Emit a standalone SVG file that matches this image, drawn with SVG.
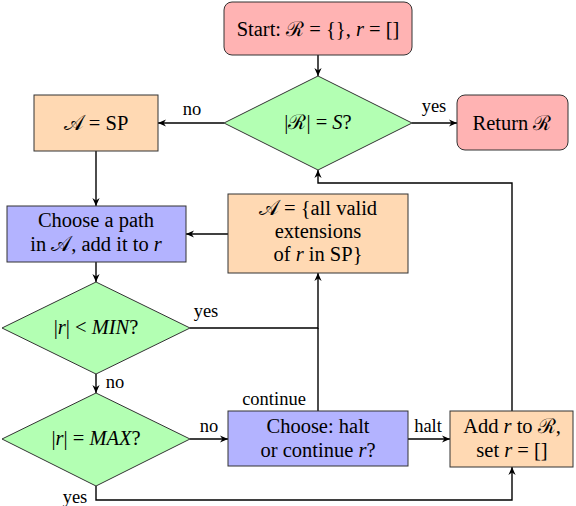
<svg xmlns="http://www.w3.org/2000/svg" width="576" height="506" viewBox="0 0 576 506">
<defs>
<marker id="arr" markerUnits="userSpaceOnUse" viewBox="0 0 10 10" refX="10" refY="5" markerWidth="8" markerHeight="8" orient="auto">
<path d="M0,0.5 L10,5 L0,9.5 L3,5 z" fill="#000"/>
</marker>
</defs>
<style>
.t{font-size:20.5px;fill:#000;text-anchor:middle}
.l{font-size:18.5px;fill:#000;text-anchor:middle}
.i{font-style:italic}
.pink{fill:#ffb3b3;stroke:#333;stroke-width:1}
.green{fill:#b3ffb3;stroke:#333;stroke-width:1}
.peach{fill:#ffd9b3;stroke:#333;stroke-width:1}
.blue{fill:#b3b3ff;stroke:#333;stroke-width:1}
.c{fill:none;stroke:#000;stroke-width:1.4}
.a{marker-end:url(#arr)}
</style>
<g font-family="Liberation Serif, DejaVu Serif, serif">
<g id="connectors">
<path class="c a" d="M318,55 V76"/>
<path class="c a" d="M224,123 H158"/>
<path class="c a" d="M412,123 H457"/>
<path class="c a" d="M96,151 V206"/>
<path class="c a" d="M228,234 H186"/>
<path class="c a" d="M96,262 V282"/>
<path class="c a" d="M190,328 H318 V273"/>
<path class="c a" d="M96,374 V393"/>
<path class="c a" d="M190,439 H228"/>
<path class="c" d="M318,411 V328"/>
<path class="c a" d="M408,439 H450"/>
<path class="c a" d="M96,486 V500 H512 V467"/>
<path class="c a" d="M512,411 V183 H318 V170"/>
<text class="l" x="192" y="115">no</text>
<text class="l" x="434" y="112">yes</text>
<text class="l" x="206" y="317">yes</text>
<text class="l" x="115" y="388">no</text>
<text class="l" x="209" y="432">no</text>
<text class="l" x="75" y="503">yes</text>
<text class="l" x="274" y="405">continue</text>
<text class="l" x="428" y="432">halt</text>
</g>
<g id="start">
<rect class="pink" x="224" y="2" width="188" height="53" rx="8"/>
<text class="t" x="318" y="36">Start: ℛ = {}, <tspan class="i">r</tspan> = []</text>
</g>
<g id="decision-R">
<polygon class="green" points="318,76 412,123 318,170 224,123"/>
<text class="t" x="318" y="129">|ℛ| = <tspan class="i">S</tspan>?</text>
</g>
<g id="return">
<rect class="pink" x="457" y="95" width="111" height="55" rx="8"/>
<text class="t" x="512" y="130">Return ℛ</text>
</g>
<g id="a-sp">
<rect class="peach" x="34" y="95" width="124" height="56"/>
<text class="t" x="96" y="130">𝒜 = SP</text>
</g>
<g id="choose-path">
<rect class="blue" x="7" y="206" width="179" height="56"/>
<text class="t" x="96" y="227">Choose a path</text>
<text class="t" x="96" y="251">in 𝒜, add it to <tspan class="i">r</tspan></text>
</g>
<g id="a-ext">
<rect class="peach" x="228" y="194" width="180" height="79"/>
<text class="t" x="318" y="215">𝒜 = {all valid</text>
<text class="t" x="318" y="238">extensions</text>
<text class="t" x="318" y="261">of <tspan class="i">r</tspan> in SP}</text>
</g>
<g id="decision-min">
<polygon class="green" points="96,282 190,328 96,374 2,328"/>
<text class="t" x="96" y="334">|<tspan class="i">r</tspan>| &lt; <tspan class="i">MIN</tspan>?</text>
</g>
<g id="decision-max">
<polygon class="green" points="96,393 190,439 96,486 2,439"/>
<text class="t" x="96" y="445">|<tspan class="i">r</tspan>| = <tspan class="i">MAX</tspan>?</text>
</g>
<g id="choose-halt">
<rect class="blue" x="228" y="411" width="180" height="55"/>
<text class="t" x="318" y="433">Choose: halt</text>
<text class="t" x="318" y="457">or continue <tspan class="i">r</tspan>?</text>
</g>
<g id="add-r">
<rect class="peach" x="450" y="411" width="123" height="56"/>
<text class="t" x="512" y="433">Add <tspan class="i">r</tspan> to ℛ,</text>
<text class="t" x="512" y="457">set <tspan class="i">r</tspan> = []</text>
</g>
</g>
</svg>
